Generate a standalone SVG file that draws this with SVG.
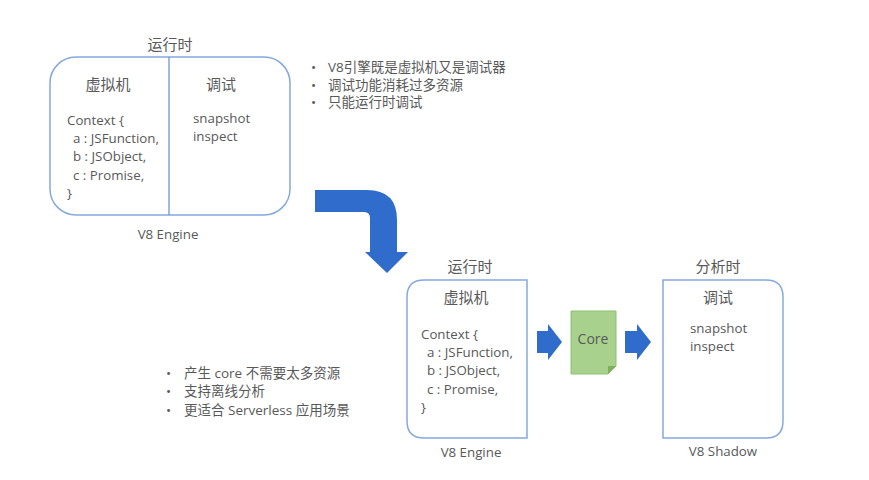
<svg xmlns="http://www.w3.org/2000/svg" width="869" height="480" viewBox="0 0 869 480">
<style>
text{font-family:"Open Sans","Noto Sans CJK SC",sans-serif;fill:#595959}
.h{font-size:15px}
.t{font-size:13.3px}
.b{font-size:13.5px}
.c{text-anchor:middle}
.box{fill:#fff;stroke:#85a9de;stroke-width:1.5}
.arr{fill:#2f6ccb}
</style>
<rect width="869" height="480" fill="#fff"/>
<g id="engine1">
<text class="h c" x="170" y="50">运行时</text>
<rect class="box" x="50" y="57" width="240" height="158" rx="26"/>
<line x1="169" y1="57" x2="169" y2="215" stroke="#6d95cf" stroke-width="1.3"/>
<text class="h c" x="108" y="90">虚拟机</text>
<text class="h c" x="221" y="90">调试</text>
<text class="t" x="67" y="125">Context {</text>
<text class="t" x="73" y="143">a : JSFunction,</text>
<text class="t" x="73" y="161">b : JSObject,</text>
<text class="t" x="73" y="180">c : Promise,</text>
<text class="t" x="67" y="198">}</text>
<text class="t" x="193" y="123">snapshot</text>
<text class="t" x="193" y="141">inspect</text>
<text class="t c" x="168" y="239">V8 Engine</text>
</g>
<g id="notes1">
<text class="b" x="311" y="72">•<tspan x="328">V8引擎既是虚拟机又是调试器</tspan></text>
<text class="b" x="311" y="90">•<tspan x="328">调试功能消耗过多资源</tspan></text>
<text class="b" x="311" y="107">•<tspan x="328">只能运行时调试</tspan></text>
</g>
<g id="engine2">
<text class="h c" x="470" y="272">运行时</text>
<path class="box" d="M424 280 H527 V438 H424 Q407 438 407 421 V297 Q407 280 424 280 Z"/>
<text class="h c" x="466" y="303">虚拟机</text>
<text class="t" x="421" y="339">Context {</text>
<text class="t" x="427" y="357">a : JSFunction,</text>
<text class="t" x="427" y="375">b : JSObject,</text>
<text class="t" x="427" y="394">c : Promise,</text>
<text class="t" x="421" y="412">}</text>
<text class="t c" x="471" y="457">V8 Engine</text>
</g>
<g id="core">
<path d="M571 311 H616 V366 L608 374 H571 Z" fill="#a9d18e" stroke="#8cc06e" stroke-width="1"/>
<path d="M616 366 L608 366 L608 374 Z" fill="#7fae5f"/>
<text class="c" x="593" y="344" font-size="14">Core</text>
</g>
<g id="shadow">
<text class="h c" x="718" y="272">分析时</text>
<path class="box" d="M663 280 H766 Q783 280 783 297 V421 Q783 438 766 438 H663 Z"/>
<text class="h c" x="718" y="303">调试</text>
<text class="t" x="690" y="333">snapshot</text>
<text class="t" x="690" y="351">inspect</text>
<text class="t c" x="723" y="456">V8 Shadow</text>
</g>
<g id="notes2">
<text class="b" x="166" y="378">•<tspan x="184">产生 core 不需要太多资源</tspan></text>
<text class="b" x="166" y="396">•<tspan x="184">支持离线分析</tspan></text>
<text class="b" x="166" y="415">•<tspan x="184">更适合 Serverless 应用场景</tspan></text>
</g>
<g id="connectors">
<path class="arr" d="M315 190 H367 Q397 190 397 220 V252 H408 L387 273 L365 252 H370 V218 Q370 212 364 212 H315 Z"/>
<path class="arr" d="M537 331 H548 V324 L562 342 L548 360 V353 H537 Z"/>
<path class="arr" d="M625 331 H637 V324 L651 342 L637 360 V353 H625 Z"/>
</g>
</svg>
